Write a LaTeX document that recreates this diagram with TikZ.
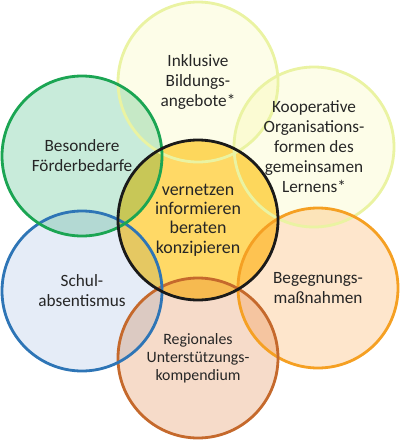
\documentclass[tikz,border=0pt]{standalone}
\usepackage{fontspec}
\setmainfont{Carlito}
\usepackage{tikz}
\usetikzlibrary{positioning}

\definecolor{txtgray}{HTML}{262626}
\definecolor{midfill}{HTML}{FFD966}
\definecolor{midline}{HTML}{1A1A1A}
\definecolor{lemfill}{HTML}{FDFDE8}
\definecolor{lemline}{HTML}{EAF3A2}
\definecolor{grnfill}{HTML}{C8EBDA}
\definecolor{grnline}{HTML}{1BA553}
\definecolor{blufill}{HTML}{E5ECF7}
\definecolor{bluline}{HTML}{2E75B6}
\definecolor{orafill}{HTML}{FEE6CC}
\definecolor{oraline}{HTML}{F5A023}
\definecolor{brnfill}{HTML}{F6DBC9}
\definecolor{brnline}{HTML}{C5692C}

\begin{document}
\begin{tikzpicture}[font=\fontsize{9.8}{11.4}\selectfont, text=txtgray,
    ring/.style={circle, minimum size=3.2cm, inner sep=0pt, align=center, line width=1.6pt},
    tint/.style={blend mode=multiply}]
    \useasboundingbox (0,0) rectangle (8,-8.8);
    % centres
    \coordinate (cmid) at (3.96,-4.4);
    \coordinate (ctop) at (3.96,-1.64);
    \coordinate (cur) at (6.28,-2.94);
    \coordinate (clr) at (6.36,-5.76);
    \coordinate (cbot) at (3.96,-7.16);
    \coordinate (cll) at (1.64,-5.82);
    \coordinate (cul) at (1.64,-3.12);
    % fills
    \fill [midfill] (cmid) circle (1.6);
    \fill [tint, lemfill] (ctop) circle (1.6);
    \fill [tint, lemfill] (cur) circle (1.6);
    \fill [tint, orafill] (clr) circle (1.6);
    \fill [tint, brnfill] (cbot) circle (1.6);
    \fill [tint, blufill] (cll) circle (1.6);
    \fill [tint, grnfill] (cul) circle (1.6);
    % outlines and texts
    \node [ring, draw=lemline] (inklusiv) at (ctop) {Inklusive\\Bildungs-\\angebote*};
    \node [ring, draw=lemline] (koop) at (cur) {Kooperative\\Organisations-\\formen des\\gemeinsamen\\Lernens*};
    \node [ring, draw=oraline] (begegnung) at (clr) {Begegnungs-\\maßnahmen};
    \node [ring, draw=brnline, font=\fontsize{9}{10.3}\selectfont] (regional) at (cbot) {Regionales\\Unterstützungs-\\kompendium};
    \node [ring, draw=bluline] (absent) at (cll) {Schul-\\absentismus};
    \node [ring, draw=grnline] (foerder) at (cul) {Besondere\\Förderbedarfe};
    \node [ring, draw=midline, font=\fontsize{10.2}{11}\selectfont] (mitte) at (cmid) {vernetzen\\informieren\\beraten\\konzipieren};
\end{tikzpicture}
\end{document}
